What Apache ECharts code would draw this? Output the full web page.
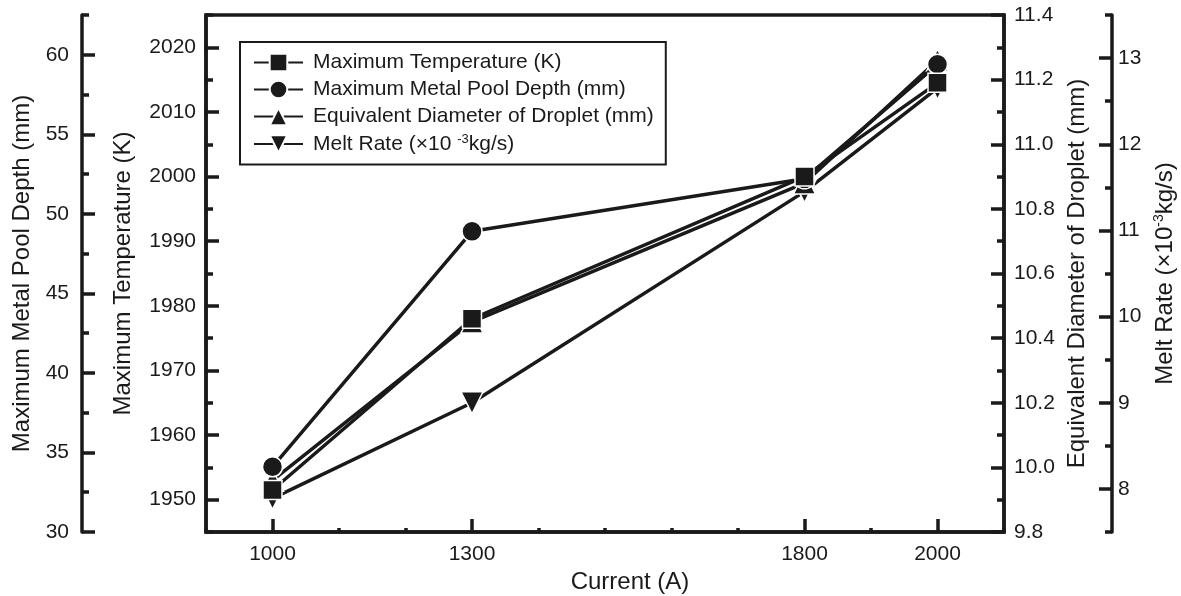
<!DOCTYPE html>
<html>
<head>
<meta charset="utf-8">
<title>Current vs. melting characteristics</title>
<script src="https://cdn.jsdelivr.net/npm/echarts@6/dist/echarts.min.js"></script>
<style>
  html, body { margin: 0; padding: 0; background: #fff; }
  #chart { width: 1181px; height: 596px; }
</style>
</head>
<body>
<div id="chart"></div>
<script>
// Welding current (A)
const currents = [1000, 1300, 1800, 2000];

// Measured quantities at each current
const maxTemperature = [1951.5, 1978, 2000, 2014.5];   // K
const maxPoolDepth   = [34.1, 48.9, 52.2, 59.4];       // mm
const dropletDiameter = [9.96, 10.45, 10.88, 11.26];   // mm
const meltRate       = [7.89, 9.0, 11.45, 12.65];      // x10^-3 kg/s

// Tick values shown with labels
const currentTicks = [1000, 1300, 1800, 2000];
const temperatureTicks = [1950, 1960, 1970, 1980, 1990, 2000, 2010, 2020];
const poolDepthTicks = [30, 35, 40, 45, 50, 55, 60];
const dropletTicks = [9.8, 10.0, 10.2, 10.4, 10.6, 10.8, 11.0, 11.2, 11.4];
const meltRateTicks = [8, 9, 10, 11, 12, 13];

const seriesNames = [
  'Maximum Temperature (K)',
  'Maximum Metal Pool Depth (mm)',
  'Equivalent Diameter of Droplet (mm)',
  'Melt Rate (×10 -3kg/s)'
];

const INK = '#1a1a1a';
const FONT = 'Liberation Sans, Arial, Helvetica, sans-serif';
const TICK_FS = 21;
const LEGEND_FS = 21;
const TITLE_FS = 24;
const AXIS_W = 3.5;
const plain = v => String(v);

const chart = echarts.init(document.getElementById('chart'), null, { renderer: 'canvas' });

function mainY(opts) {
  return Object.assign({
    type: 'value',
    nameLocation: 'middle',
    nameTextStyle: { color: INK, fontSize: TITLE_FS, fontFamily: FONT },
    axisLine: { show: true, onZero: false, lineStyle: { color: INK, width: AXIS_W } },
    splitLine: { show: false }
  }, opts);
}

function minorY(opts) {
  return Object.assign({
    type: 'value',
    axisLine: { show: false, onZero: false },
    axisTick: { show: true, inside: true, length: 7, lineStyle: { color: INK, width: AXIS_W } },
    axisLabel: { show: false },
    splitLine: { show: false }
  }, opts);
}

const majorTick = values => ({
  show: true, inside: true, length: 13, customValues: values,
  lineStyle: { color: INK, width: AXIS_W }
});

const tickLabel = (values, margin, formatter) => ({
  color: INK, fontSize: TICK_FS, fontFamily: FONT, margin: margin,
  customValues: values, formatter: formatter || plain
});

const lineSeries = (name, data, yIndex, symbol, size, rotate, z) => ({
  name: name,
  type: 'line',
  yAxisIndex: yIndex,
  data: currents.map((c, i) => [c, data[i]]),
  symbol: symbol,
  symbolSize: size,
  symbolRotate: rotate,
  showSymbol: true,
  lineStyle: { color: INK, width: 3.5 },
  itemStyle: { color: INK, borderColor: '#fff', borderWidth: 1.5 },
  emphasis: { disabled: true },
  z: z
});

const supStyle = (fs, lh) => ({
  a: { fontSize: fs, fontFamily: FONT, color: INK, lineHeight: lh },
  s: { fontSize: Math.round(fs * 0.6), fontFamily: FONT, color: INK, lineHeight: Math.round(lh * 0.6), verticalAlign: 'top' }
});

chart.setOption({
  animation: false,
  backgroundColor: '#fff',
  textStyle: { fontFamily: FONT },
  grid: {
    left: 206, right: 177, top: 15, bottom: 64,
    show: true, borderColor: INK, borderWidth: AXIS_W,
    containLabel: false, outerBoundsMode: 'none'
  },
  legend: {
    orient: 'vertical',
    left: 240, top: 42,
    padding: [10, 12, 10, 13],
    itemWidth: 49, itemHeight: 22, itemGap: 6,
    borderColor: INK, borderWidth: 2,
    data: seriesNames,
    textStyle: { color: INK, fontSize: LEGEND_FS, fontFamily: FONT, padding: [0, 0, 0, 5], rich: supStyle(LEGEND_FS, 22) },
    formatter: function (name) {
      if (name === seriesNames[3]) return '{a|Melt Rate (×10 }{s|-3}{a|kg/s)}';
      return name;
    }
  },
  xAxis: [
    {
      type: 'value',
      min: 900, max: 2100,
      name: 'Current (A)',
      nameLocation: 'middle',
      nameGap: 36,
      nameTextStyle: { color: INK, fontSize: TITLE_FS, fontFamily: FONT, padding: [0, 0, 0, 50] },
      axisLine: { show: true, onZero: false, lineStyle: { color: INK, width: AXIS_W } },
      axisTick: majorTick(currentTicks),
      axisLabel: tickLabel(currentTicks, 12),
      splitLine: { show: false }
    },
    {
      type: 'value',
      min: 900, max: 2100, interval: 100,
      position: 'bottom',
      axisLine: { show: false, onZero: false },
      axisTick: { show: true, inside: true, length: 4, lineStyle: { color: INK, width: AXIS_W } },
      axisLabel: { show: false },
      splitLine: { show: false }
    }
  ],
  yAxis: [
    mainY({
      position: 'left', offset: 0,
      min: 1945, max: 2025,
      name: 'Maximum Temperature (K)', nameGap: 71,
      axisTick: majorTick(temperatureTicks),
      axisLabel: tickLabel(temperatureTicks, 10)
    }),
    mainY({
      position: 'left', offset: 124,
      min: 30, max: 62.5,
      name: 'Maximum Metal Pool Depth (mm)', nameGap: 48,
      axisTick: majorTick(poolDepthTicks),
      axisLabel: tickLabel(poolDepthTicks, 13)
    }),
    mainY({
      position: 'right', offset: 0,
      min: 9.8, max: 11.4,
      name: 'Equivalent Diameter of Droplet (mm)', nameGap: 61,
      axisTick: majorTick(dropletTicks),
      axisLabel: tickLabel(dropletTicks, 10, v => Number(v).toFixed(1))
    }),
    mainY({
      position: 'right', offset: 108,
      min: 7.5, max: 13.5,
      name: '{a|Melt Rate (×10}{s|-3}{a|kg/s)}', nameGap: 39,
      nameTextStyle: { color: INK, fontSize: TITLE_FS, fontFamily: FONT, rich: supStyle(TITLE_FS, 26) },
      axisTick: majorTick(meltRateTicks),
      axisLabel: tickLabel(meltRateTicks, 6)
    }),
    // minor tick overlays
    minorY({ position: 'left', offset: 0, min: 1945, max: 2025, interval: 5 }),
    minorY({ position: 'left', offset: 124, min: 30, max: 62.5, interval: 2.5 }),
    minorY({ position: 'right', offset: 0, min: 9.8, max: 11.4, interval: 0.1 }),
    minorY({ position: 'right', offset: 108, min: 7.5, max: 13.5, interval: 0.5 })
  ],
  series: [
    lineSeries(seriesNames[3], meltRate, 3, 'triangle', 22, 180, 2),
    lineSeries(seriesNames[2], dropletDiameter, 2, 'triangle', 22, 0, 3),
    lineSeries(seriesNames[1], maxPoolDepth, 1, 'circle', 20, 0, 4),
    lineSeries(seriesNames[0], maxTemperature, 0, 'rect', 19, 0, 5)
  ]
});
</script>
</body>
</html>
